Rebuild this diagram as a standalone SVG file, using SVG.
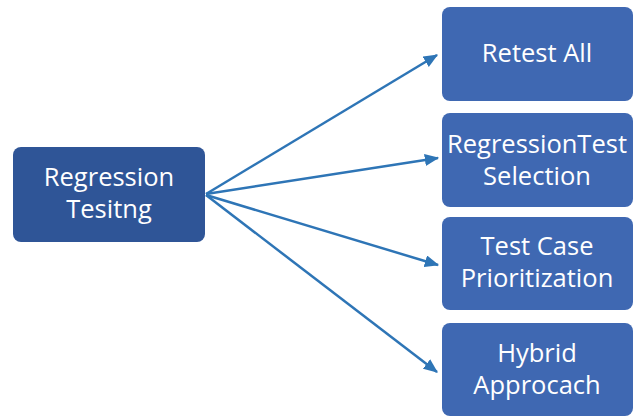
<svg xmlns="http://www.w3.org/2000/svg" width="644" height="417" viewBox="0 0 644 417">
<defs>
<style>
.l{fill:#2F5597}
.r{fill:#3F68B2}
text{font-family:"Open Sans","Noto Sans",sans-serif;font-size:25.5px;fill:#ffffff;text-anchor:middle}
.c line{stroke:#2E75B6;stroke-width:2.5;marker-end:url(#a)}
</style>
<marker id="a" viewBox="0 0 12 10" refX="11" refY="5" markerWidth="5.8" markerHeight="4.8" orient="auto" markerUnits="strokeWidth">
<path d="M0,0 L12,5 L0,10 z" fill="#2E75B6"/>
</marker>
</defs>
<rect width="644" height="417" fill="#ffffff"/>
<g id="n0"><rect class="l" x="13" y="147" width="192" height="95" rx="8"/><text x="109" y="186">Regression</text><text x="109" y="218">Tesitng</text></g>
<g id="n1"><rect class="r" x="442" y="7" width="191" height="94" rx="8"/><text x="537" y="62">Retest All</text></g>
<g id="n2"><rect class="r" x="442" y="113" width="191" height="94" rx="8"/><text x="537" y="153">RegressionTest</text><text x="537" y="185">Selection</text></g>
<g id="n3"><rect class="r" x="442" y="217" width="191" height="93" rx="8"/><text x="537" y="255">Test Case</text><text x="537" y="287">Prioritization</text></g>
<g id="n4"><rect class="r" x="442" y="323" width="191" height="93" rx="8"/><text x="537" y="362">Hybrid</text><text x="537" y="394">Approcach</text></g>
<g class="c">
<line x1="206" y1="194" x2="437" y2="55"/>
<line x1="206" y1="194" x2="438" y2="158"/>
<line x1="206" y1="195" x2="438" y2="265"/>
<line x1="206" y1="195" x2="437" y2="372"/>
</g>
</svg>
